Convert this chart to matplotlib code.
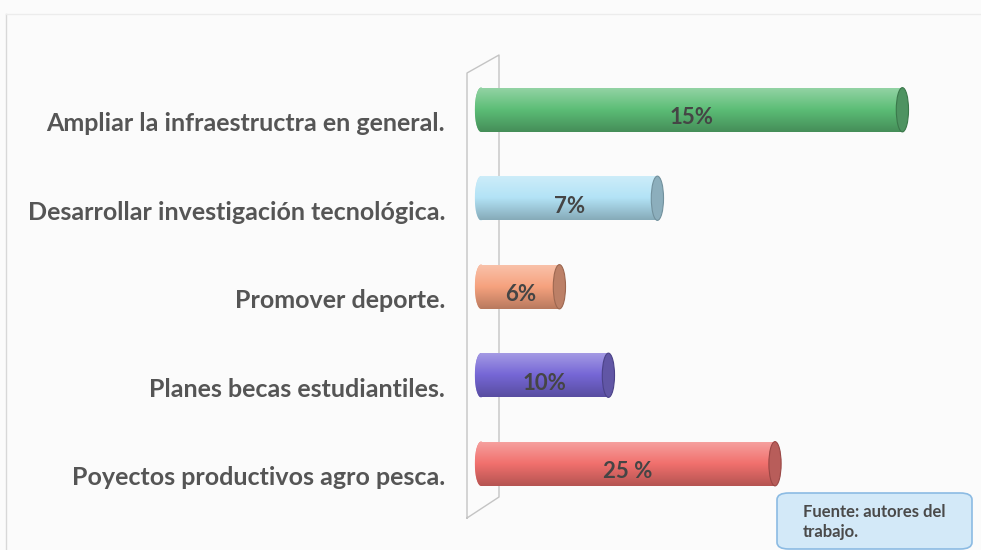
import numpy as np
import matplotlib.pyplot as plt
from matplotlib.patches import Ellipse, FancyBboxPatch
from matplotlib.lines import Line2D
from matplotlib.colors import to_rgb

# ---------------------------------------------------------------
categories = ["Ampliar la infraestructra en general.",
              "Desarrollar investigación tecnológica.",
              "Promover deporte.",
              "Planes becas estudiantiles.",
              "Poyectos productivos agro pesca."]
values = [43, 18, 8, 13, 30]            # bar lengths as drawn
value_labels = ["15%", "7%", "6%", "10%", "25 %"]
colors = ["#5cbd76", "#b3e3f6", "#f6a27e", "#7667d6", "#f1706d"]
source_text = "Fuente: autores del\ntrabajo."
# ---------------------------------------------------------------

plt.rcParams['font.family'] = ['Lato', 'DejaVu Sans']

fig = plt.figure(figsize=(9.81, 5.5), dpi=100, facecolor="#fbfbfb")

# frame of the picture (faint)
fig.add_artist(Line2D([6/981, 6/981], [1 - 14/550, 0], color="#d8d8d8", lw=1))
fig.add_artist(Line2D([6/981, 1], [1 - 14/550, 1 - 14/550], color="#ececec", lw=1))

# 3D wall behind the bars
wall_x = [467/981, 467/981, 499/981, 499/981, 467/981]
wall_y = [1 - 518/550, 1 - 73/550, 1 - 55/550, 1 - 497/550, 1 - 518/550]
fig.add_artist(Line2D(wall_x, wall_y, color="#c4c4c4", lw=1, zorder=-1))

px = 9.8    # pixels per unit
ax = fig.add_axes([(481 - px)/981, 42/550, 50*px/981, 442.5/550])
ax.set_xlim(-1, 49)
ax.set_ylim(4.5, -0.5)
ax.axis("off")

h = 0.5
cap_w = 1.25
t = np.linspace(0, 1, 100)[:, None]

for i, (v, c, lab) in enumerate(zip(values, colors, value_labels)):
    base = np.array(to_rgb(c))
    light = base + (1 - base) * 0.35
    dark = base * 0.75
    # vertical shading: light top, base middle, dark bottom
    rgb = np.where(t < 0.5,
                   light + (base - light) * (t / 0.5),
                   base + (dark - base) * ((t - 0.5) / 0.5))
    img = np.repeat(rgb[:, None, :], 2, axis=1)

    bars = ax.barh(i, v, height=h, color=c, zorder=2, linewidth=0)
    left_cap = Ellipse((0, i), cap_w, h, facecolor=c, edgecolor="none", zorder=2)
    ax.add_patch(left_cap)
    im = ax.imshow(img, extent=(0, v, i + h / 2, i - h / 2), aspect="auto",
                   zorder=3, interpolation="bilinear")
    im.set_clip_path(bars[0])
    im2 = ax.imshow(img, extent=(-cap_w / 2, cap_w / 2, i + h / 2, i - h / 2),
                    aspect="auto", zorder=3, interpolation="bilinear")
    im2.set_clip_path(left_cap)
    ax.add_patch(Ellipse((v, i), cap_w, h, facecolor=dark * 0.95 + 0.05,
                         edgecolor=dark * 0.85, lw=0.8, zorder=4))
    ax.text(v / 2, i + 0.09, lab, ha="center", va="center", fontsize=16,
            fontweight="bold", color="#454545", zorder=5)
    ax.text(-36 / px, i + 0.16, categories[i], ha="right", va="center",
            fontsize=18, fontweight="bold", color="#555555", zorder=5)

ax.set_xlim(-1, 49)
ax.set_ylim(4.5, -0.5)

# source box
box = FancyBboxPatch((777/981, 1 - 549/550), 195/981, 56/550,
                     boxstyle="round,pad=0,rounding_size=0.012",
                     transform=fig.transFigure, facecolor="#d3e9f8",
                     edgecolor="#8cbbe3", lw=1.2)
fig.add_artist(box)
fig.text(803/981, 1 - 522/550, source_text, ha="left", va="center",
         fontsize=12, fontweight="bold", color="#4a4a4a", linespacing=1.25)

fig.savefig("out.png", dpi=100, facecolor=fig.get_facecolor())
